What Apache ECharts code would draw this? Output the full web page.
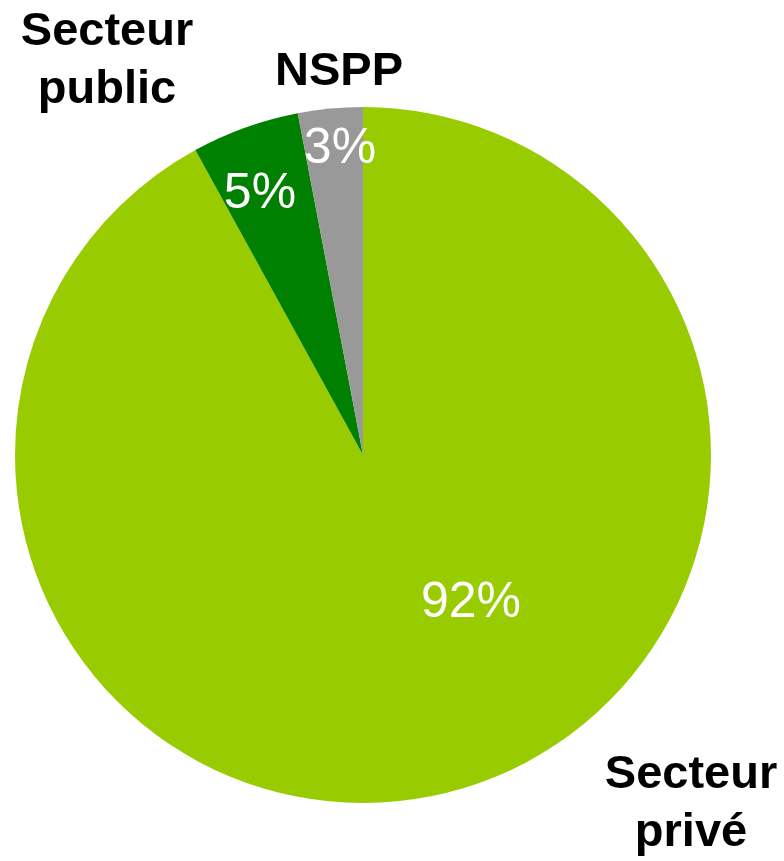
<!DOCTYPE html>
<html>
<head>
<meta charset="utf-8">
<script src="https://cdn.jsdelivr.net/npm/echarts@6/dist/echarts.min.js"></script>
<style>
  html, body { margin: 0; padding: 0; background: #fff; }
  #chart { width: 784px; height: 861px; }
</style>
</head>
<body>
<div id="chart"></div>
<script>
const categories = ['Secteur privé', 'Secteur public', 'NSPP']
const shares = [92, 5, 3]
const colors = ['#99cc00', '#008000', '#999999']

// label anchor points (px), same order as categories
const innerLabelPos = [[471, 603], [260, 194], [340, 149]]
const outerLabelPos = [[691, 804], [107, 61], [339, 72]]

const chart = echarts.init(document.getElementById('chart'))

const pieData = categories.map((name, i) => ({
  name,
  value: shares[i],
  itemStyle: { color: colors[i] },
}))

chart.setOption({
  animation: false,
  series: [
    {
      type: 'pie',
      center: [363, 455],
      radius: 348,
      startAngle: 90,
      clockwise: true,
      silent: true,
      data: pieData,
      label: {
        show: true,
        position: 'inside',
        formatter: '{c}%',
        color: '#fff',
        fontFamily: 'Liberation Sans',
        fontSize: 50,
      },
      labelLayout: (p) => ({
        x: innerLabelPos[p.dataIndex][0],
        y: innerLabelPos[p.dataIndex][1],
        align: 'center',
        verticalAlign: 'middle',
      }),
    },
    {
      type: 'pie',
      center: [363, 455],
      radius: 348,
      startAngle: 90,
      silent: true,
      data: pieData.map(d => ({ ...d, itemStyle: { color: 'transparent' } })),
      label: {
        show: true,
        position: 'outside',
        formatter: (p) => p.name.replace(' ', '\n'),
        color: '#000',
        fontFamily: 'Liberation Sans',
        fontWeight: 'bold',
        fontSize: 47,
        lineHeight: 58,
        align: 'center',
        overflow: 'none',
      },
      labelLine: { show: false },
      labelLayout: (p) => ({
        x: outerLabelPos[p.dataIndex][0],
        y: outerLabelPos[p.dataIndex][1],
        align: 'center',
        verticalAlign: 'middle',
      }),
    },
  ],
})
</script>
</body>
</html>
